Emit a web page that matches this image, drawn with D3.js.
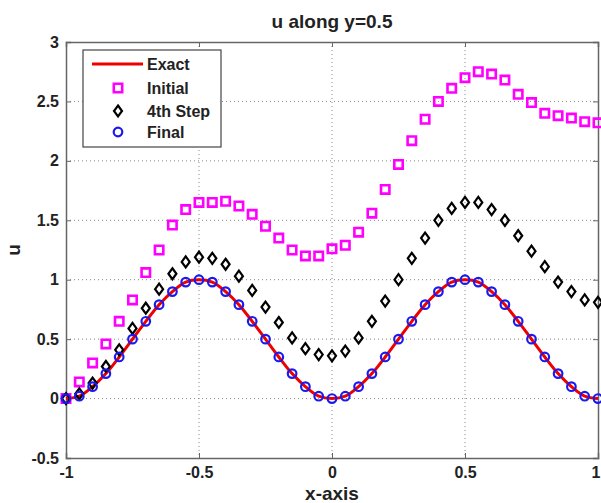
<!DOCTYPE html>
<html>
<head>
<meta charset="utf-8">
<script src="https://cdn.jsdelivr.net/npm/d3@7"></script>
<style>
  body { margin: 0; background: #fff; }
  svg text { font-family: "Liberation Sans", Arial, sans-serif; font-weight: bold; fill: #222; }
</style>
</head>
<body>
<div id="chart"></div>
<script>
// values, x grid = -1 .. 1 step 0.05
let xValues = d3.range(41).map(i => +(-1 + i * 0.05).toFixed(2));

let exactValues = [0, 0.02, 0.10, 0.21, 0.35, 0.50, 0.65, 0.79, 0.90, 0.98, 1.00, 0.98, 0.90, 0.79, 0.65, 0.50, 0.35, 0.21, 0.10, 0.02, 0,
                   0.02, 0.10, 0.21, 0.35, 0.50, 0.65, 0.79, 0.90, 0.98, 1.00, 0.98, 0.90, 0.79, 0.65, 0.50, 0.35, 0.21, 0.10, 0.02, 0];

let initialValues = [0, 0.14, 0.30, 0.46, 0.65, 0.83, 1.06, 1.25, 1.46, 1.59, 1.65, 1.65, 1.66, 1.62, 1.55, 1.45, 1.35, 1.25, 1.20, 1.20, 1.26,
                     1.29, 1.40, 1.56, 1.76, 1.97, 2.17, 2.35, 2.50, 2.61, 2.70, 2.75, 2.73, 2.68, 2.56, 2.49, 2.40, 2.38, 2.36, 2.33, 2.32];

let step4Values = [0, 0.04, 0.13, 0.27, 0.41, 0.59, 0.76, 0.92, 1.05, 1.15, 1.19, 1.18, 1.13, 1.03, 0.91, 0.77, 0.64, 0.51, 0.42, 0.37, 0.36,
                   0.40, 0.51, 0.65, 0.82, 1.00, 1.18, 1.35, 1.50, 1.60, 1.65, 1.65, 1.59, 1.50, 1.37, 1.24, 1.11, 0.98, 0.90, 0.83, 0.81];

let finalValues = [0, 0.02, 0.10, 0.21, 0.35, 0.50, 0.65, 0.79, 0.90, 0.98, 1.00, 0.98, 0.90, 0.79, 0.65, 0.50, 0.35, 0.21, 0.10, 0.02, 0,
                   0.02, 0.10, 0.21, 0.35, 0.50, 0.65, 0.79, 0.90, 0.98, 1.00, 0.98, 0.90, 0.79, 0.65, 0.50, 0.35, 0.21, 0.10, 0.02, 0];

let xTicks = [-1, -0.5, 0, 0.5, 1];
let yTicks = [-0.5, 0, 0.5, 1, 1.5, 2, 2.5, 3];
let legendKeys = ["Exact", "Initial", "4th Step", "Final"];

let width = 601, height = 503;
let margin = {top: 42, right: 3, bottom: 45, left: 66};
let w = width - margin.left - margin.right,
    h = height - margin.top - margin.bottom;

let svg = d3.select('#chart').append('svg')
    .attr('width', width).attr('height', height);

let g = svg.append('g')
    .attr('transform', 'translate(' + margin.left + ',' + margin.top + ')');

let xScale = d3.scaleLinear().domain([-1, 1]).range([0, w]);
let yScale = d3.scaleLinear().domain([-0.5, 3]).range([h, 0]);

// grid
g.selectAll('.vgrid').data(xTicks.slice(1, -1)).enter().append('line')
    .attr('x1', d => xScale(d)).attr('x2', d => xScale(d))
    .attr('y1', 0).attr('y2', h)
    .attr('stroke', '#888').attr('stroke-width', 1).attr('stroke-dasharray', '1,3');
g.selectAll('.hgrid').data(yTicks.slice(1, -1)).enter().append('line')
    .attr('y1', d => yScale(d)).attr('y2', d => yScale(d))
    .attr('x1', 0).attr('x2', w)
    .attr('stroke', '#888').attr('stroke-width', 1).attr('stroke-dasharray', '1,3');

// axes (inward ticks), plain hyphen for minus like matlab
let fmt = d => String(d);
let xAxis = g.append('g').attr('transform', 'translate(0,' + h + ')')
    .call(d3.axisBottom(xScale).tickValues(xTicks).tickSize(-5).tickPadding(9).tickFormat(fmt));
let xAxisTop = g.append('g')
    .call(d3.axisTop(xScale).tickValues(xTicks).tickSize(-5).tickFormat(''));
let yAxis = g.append('g')
    .call(d3.axisLeft(yScale).tickValues(yTicks).tickSize(-5).tickPadding(7).tickFormat(fmt));
let yAxisRight = g.append('g').attr('transform', 'translate(' + w + ',0)')
    .call(d3.axisRight(yScale).tickValues(yTicks).tickSize(-5).tickFormat(''));

[xAxis, xAxisTop, yAxis, yAxisRight].forEach(a => {
    a.select('.domain').attr('stroke', '#666').attr('stroke-width', 1.5);
    a.selectAll('.tick line').attr('stroke', '#666');
    a.selectAll('text').attr('font-size', 16).attr('fill', '#222')
        .style('font-family', '"Liberation Sans", Arial, sans-serif').style('font-weight', 'bold');
});
// last x label sits at the window edge, keep it inside
xAxis.selectAll('.tick text').filter(d => d === 1).attr('text-anchor', 'end').attr('dx', 2);

// exact line
let line = d3.line()
    .x((d, i) => xScale(xValues[i]))
    .y(d => yScale(d))
    .curve(d3.curveCatmullRom);

g.append('path').datum(exactValues)
    .attr('d', line).attr('fill', 'none')
    .attr('stroke', '#ee0000').attr('stroke-width', 3);

// markers
let squarePath = function(s){ return 'M' + (-s) + ',' + (-s) + 'h' + 2*s + 'v' + 2*s + 'h' + (-2*s) + 'Z'; };
let diamondPath = function(a, b){ return 'M0,' + (-b) + 'L' + a + ',0L0,' + b + 'L' + (-a) + ',0Z'; };

g.selectAll('.initial').data(initialValues).enter().append('path')
    .attr('transform', (d, i) => 'translate(' + xScale(xValues[i]) + ',' + yScale(d) + ')')
    .attr('d', squarePath(4.2)).attr('fill', 'none')
    .attr('stroke', '#ff00ff').attr('stroke-width', 2.6);

g.selectAll('.step4').data(step4Values).enter().append('path')
    .attr('transform', (d, i) => 'translate(' + xScale(xValues[i]) + ',' + yScale(d) + ')')
    .attr('d', diamondPath(4, 5.5)).attr('fill', 'none')
    .attr('stroke', '#000').attr('stroke-width', 2.2);

g.selectAll('.final').data(finalValues).enter().append('circle')
    .attr('cx', (d, i) => xScale(xValues[i])).attr('cy', d => yScale(d))
    .attr('r', 4.3).attr('fill', 'none')
    .attr('stroke', '#1a1aee').attr('stroke-width', 2.2);

// legend
let lg = svg.append('g').attr('transform', 'translate(83,50)');
lg.append('rect').attr('width', 138).attr('height', 97)
    .attr('fill', '#fff').attr('stroke', '#444').attr('stroke-width', 1.2);

let rowY = [14, 38, 61, 82];
legendKeys.forEach(function(k, i){
    let row = lg.append('g').attr('transform', 'translate(0,' + rowY[i] + ')');
    row.append('text').text(k).attr('x', 64).attr('y', 6).attr('font-size', 16);
    if(i === 0){
        row.append('line').attr('x1', 9).attr('x2', 60).attr('y1', 0).attr('y2', 0)
            .attr('stroke', '#ee0000').attr('stroke-width', 3);
    } else if(i === 1){
        row.append('path').attr('transform', 'translate(35,0)').attr('d', squarePath(4.2))
            .attr('fill', 'none').attr('stroke', '#ff00ff').attr('stroke-width', 2.6);
    } else if(i === 2){
        row.append('path').attr('transform', 'translate(35,0)').attr('d', diamondPath(4, 5.5))
            .attr('fill', 'none').attr('stroke', '#000').attr('stroke-width', 2.2);
    } else {
        row.append('circle').attr('cx', 35).attr('cy', 0).attr('r', 4.3)
            .attr('fill', 'none').attr('stroke', '#1a1aee').attr('stroke-width', 2.2);
    }
});

// titles
svg.append('text').text('u along y=0.5')
    .attr('x', margin.left + w / 2).attr('y', 28)
    .attr('text-anchor', 'middle').attr('font-size', 19);

svg.append('text').text('x-axis')
    .attr('x', margin.left + w / 2).attr('y', 500)
    .attr('text-anchor', 'middle').attr('font-size', 19);

svg.append('text').text('u')
    .attr('transform', 'translate(20,' + (margin.top + h / 2) + ') rotate(-90)')
    .attr('text-anchor', 'middle').attr('font-size', 19);
</script>
</body>
</html>
